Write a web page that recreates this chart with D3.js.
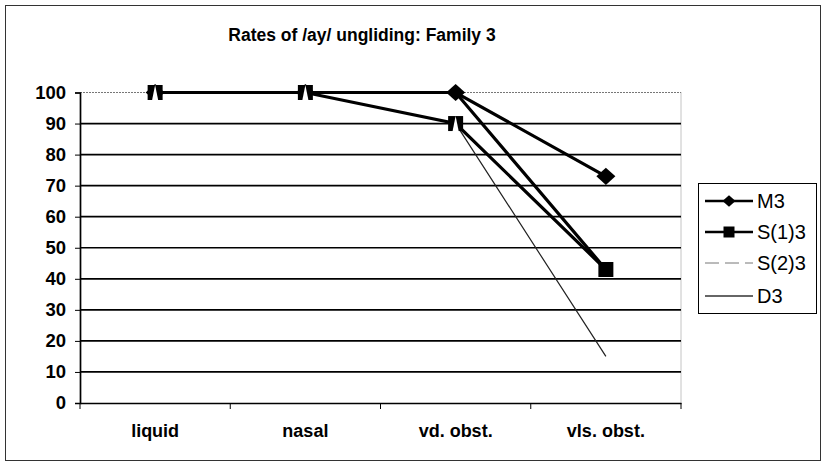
<!DOCTYPE html>
<html>
<head>
<meta charset="utf-8">
<script src="https://cdn.jsdelivr.net/npm/d3@7"></script>
<style>
  body { margin: 0; background: #fff; }
  text { font-family: "Liberation Sans", Arial, sans-serif; fill: #000; }
</style>
</head>
<body>
<div id="chart"></div>
<script>
// Data
var categories = ["liquid", "nasal", "vd. obst.", "vls. obst."];
var m3 = [100, 100, 100, 73];
var s13 = [100, 100, 90, 43];
var s23 = [100, 100, 90, 15];
var d3s = [100, 100, 100, 43];
var yTicks = [0, 10, 20, 30, 40, 50, 60, 70, 80, 90, 100];
var seriesNames = ["M3", "S(1)3", "S(2)3", "D3"];

var W = 823, H = 466;
var margin = {top: 92.5, left: 80, right: 142, bottom: 63};
var width = W - margin.left - margin.right;
var height = H - margin.top - margin.bottom;

// custom marker shapes (size = half width)
var rhombus = {
  draw: function(ctx, s) {
    var h = s * 0.9;
    ctx.moveTo(0, -h); ctx.lineTo(s, 0); ctx.lineTo(0, h); ctx.lineTo(-s, 0); ctx.closePath();
  }
};
var box = {
  draw: function(ctx, s) { ctx.rect(-s, -s, 2 * s, 2 * s); }
};
var spike = {
  draw: function(ctx, s) {
    ctx.moveTo(0, -s * 0.95); ctx.lineTo(s * 0.42, s * 1.15); ctx.lineTo(-s * 0.42, s * 1.15); ctx.closePath();
  }
};

var svg = d3.select("#chart").append("svg")
  .attr("width", W)
  .attr("height", H);

// outer frame
svg.append("rect")
  .attr("x", 5.5).attr("y", 5.5)
  .attr("width", 815).attr("height", 455)
  .attr("fill", "none").attr("stroke", "#333").attr("stroke-width", 1);

// Title
svg.append("text")
  .attr("x", 362).attr("y", 41)
  .attr("text-anchor", "middle")
  .style("font-size", "17.5px").style("font-weight", "bold")
  .text("Rates of /ay/ ungliding: Family 3");

var g = svg.append("g")
  .attr("transform", "translate(" + margin.left + "," + margin.top + ")");

var x = d3.scaleBand().domain(categories).range([0, width]);
var y = d3.scaleLinear().domain([0, 100]).range([height, 0]);
var cx = function(i) { return x(categories[i]) + x.bandwidth() / 2; };

// plot area right border (dotted)
g.append("line")
  .attr("x1", width).attr("x2", width).attr("y1", 0).attr("y2", height)
  .attr("stroke", "#888").attr("stroke-dasharray", "1,1");

// gridlines
g.selectAll(".grid")
  .data(yTicks.filter(function(t) { return t > 0; }))
  .enter().append("line")
  .attr("x1", 0).attr("x2", width)
  .attr("y1", function(d) { return y(d); })
  .attr("y2", function(d) { return y(d); })
  .attr("stroke", function(d) { return d === 100 ? "#777" : "#000"; })
  .attr("stroke-width", function(d) { return d === 100 ? 1 : 1.7; })
  .attr("stroke-dasharray", function(d) { return d === 100 ? "2,1" : null; });

// Y axis
var yAxis = g.append("g")
  .call(d3.axisLeft(y).tickValues(yTicks).tickSize(5).tickPadding(9));
yAxis.select(".domain").attr("stroke-width", 1.7);
yAxis.selectAll("text")
  .style("font-size", "18.5px").style("font-weight", "bold");

// X axis
var xAxis = g.append("g")
  .attr("transform", "translate(0," + height + ")")
  .call(d3.axisBottom(x).tickSize(0));
xAxis.select(".domain").attr("stroke-width", 1.7);
xAxis.selectAll("text")
  .attr("y", 34).attr("dy", 0)
  .style("font-size", "18px").style("font-weight", "bold");
xAxis.selectAll(".sep")
  .data(d3.range(categories.length + 1))
  .enter().append("line")
  .attr("class", "sep")
  .attr("x1", function(i) { return i * x.bandwidth(); })
  .attr("x2", function(i) { return i * x.bandwidth(); })
  .attr("y1", 0).attr("y2", 6)
  .attr("stroke", "#000");

var line = d3.line()
  .x(function(d, i) { return cx(i); })
  .y(function(d) { return y(d); });

// thin S(2)3 line
g.append("path").datum(s23)
  .attr("d", line).attr("fill", "none")
  .attr("stroke", "#222").attr("stroke-width", 1.2);

// thick lines
[d3s, s13, m3].forEach(function(s) {
  g.append("path").datum(s)
    .attr("d", line).attr("fill", "none")
    .attr("stroke", "#000").attr("stroke-width", 3.2);
});

// markers
g.selectAll(".m3").data(m3).enter().append("path")
  .attr("d", d3.symbol().type(rhombus).size(9.5))
  .attr("transform", function(d, i) { return "translate(" + cx(i) + "," + y(d) + ")"; })
  .attr("fill", "#000");

g.selectAll(".s13").data(s13).enter().append("path")
  .attr("d", d3.symbol().type(box).size(7.5))
  .attr("transform", function(d, i) { return "translate(" + cx(i) + "," + y(d) + ")"; })
  .attr("fill", "#000");

g.selectAll(".s23").data(s23.slice(0, 3)).enter().append("path")
  .attr("d", d3.symbol().type(spike).size(8))
  .attr("transform", function(d, i) { return "translate(" + cx(i) + "," + y(d) + ")"; })
  .attr("fill", "#fff");

// Legend
var lg = svg.append("g");
lg.append("rect")
  .attr("x", 698.5).attr("y", 183.5)
  .attr("width", 118).attr("height", 130)
  .attr("fill", "#fff").attr("stroke", "#000").attr("stroke-width", 1);

var legY = [201, 232, 263, 296];
seriesNames.forEach(function(name, i) {
  var yy = legY[i];
  var ln = lg.append("line")
    .attr("x1", 705).attr("x2", 753).attr("y1", yy).attr("y2", yy)
    .attr("stroke", "#000");
  if (i < 2) ln.attr("stroke-width", 2.5);
  if (i === 2) ln.attr("stroke-width", 1).attr("stroke", "#777").attr("stroke-dasharray", "14,6");
  if (i === 3) ln.attr("stroke-width", 1.5).attr("stroke", "#333");
  if (i === 0) lg.append("path").attr("d", d3.symbol().type(rhombus).size(6.5))
    .attr("transform", "translate(729," + yy + ")");
  if (i === 1) lg.append("path").attr("d", d3.symbol().type(box).size(5.5))
    .attr("transform", "translate(729," + yy + ")");
  lg.append("text")
    .attr("x", 757).attr("y", yy).attr("dy", "0.36em")
    .style("font-size", "20px")
    .text(name);
});
</script>
</body>
</html>
